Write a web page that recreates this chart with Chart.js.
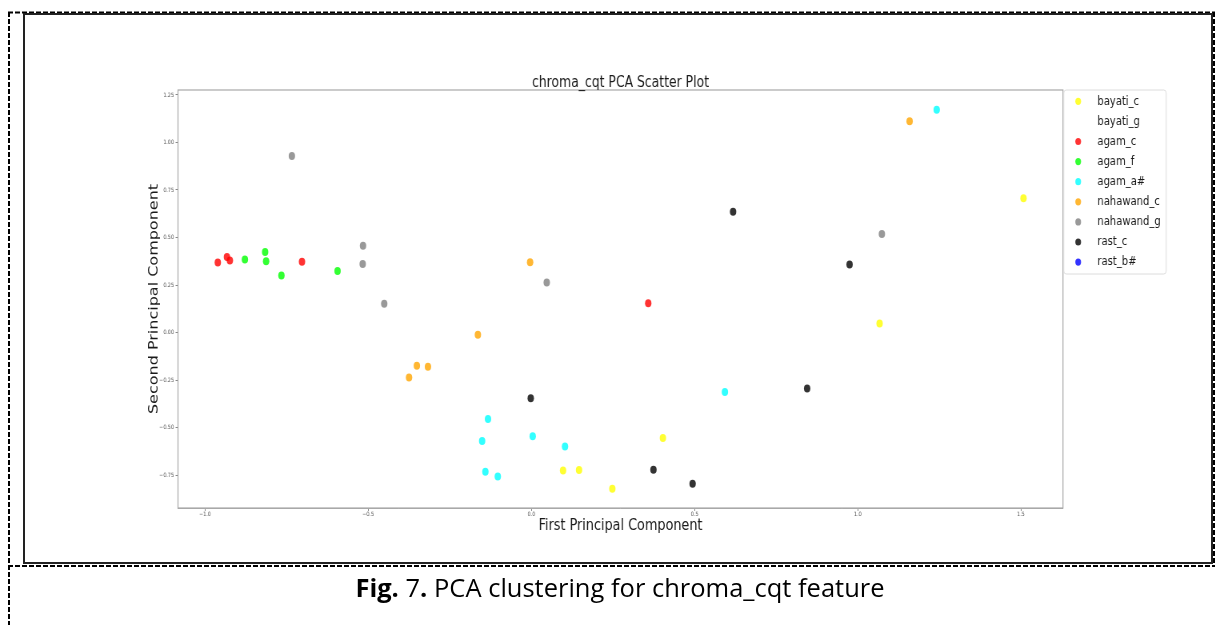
<!DOCTYPE html>
<html lang="en">
<head>
  <meta charset="UTF-8" />
  <title>chroma_cqt PCA Scatter Plot</title>
  <script src="https://cdn.jsdelivr.net/npm/chart.js"></script>
  <style>
    html, body { margin: 0; padding: 0; background: #fff; }
    body { width: 1216px; height: 625px; position: relative; overflow: hidden; }
    #frame { position: absolute; left: 0; top: 0; }
    #chart { position: absolute; left: 0; top: 0; width: 1520px; height: 625px; transform: scaleX(0.8); transform-origin: 0 0; }
    .caption { position: absolute; left: 0; width: 1240px; top: 570px; text-align: center; line-height: 34px;
      font-family: "Open Sans", sans-serif; font-size: 25.5px; color: #000; }
  </style>
</head>
<body>
  <svg id="frame" width="1216" height="625">
    <g stroke="#000" stroke-width="2" stroke-dasharray="5 2" fill="none">
      <line x1="8" y1="12.5" x2="1215" y2="12.5" />
      <line x1="9" y1="12" x2="9" y2="625" />
      <line x1="1214" y1="12" x2="1214" y2="567" />
      <line x1="8" y1="566" x2="1215" y2="566" />
    </g>
    <rect x="24" y="14" width="1188" height="549" stroke="#222" stroke-width="2" fill="none" />
  </svg>
  <canvas id="chart" width="1520" height="625"></canvas>
  <div class="caption"><b>Fig.</b> 7<b>.</b> PCA clustering for chroma_cqt feature</div>

  <script>
    // tick labels
    const xTicks = [-1.0, -0.5, 0.0, 0.5, 1.0, 1.5];
    const yTicks = [-0.75, -0.5, -0.25, 0.0, 0.25, 0.5, 0.75, 1.0, 1.25];

    // series (PC1, PC2)
    const bayatiC = [[1.508, 0.707], [1.067, 0.047], [0.403, -0.555], [0.097, -0.726], [0.146, -0.723], [0.248, -0.822]];
    const bayatiG = [];
    const agamC = [[-0.961, 0.368], [-0.933, 0.398], [-0.924, 0.379], [-0.703, 0.373], [0.358, 0.154]];
    const agamF = [[-0.878, 0.384], [-0.816, 0.424], [-0.813, 0.375], [-0.766, 0.300], [-0.594, 0.324]];
    const agamAs = [[1.242, 1.172], [-0.133, -0.455], [-0.151, -0.571], [0.004, -0.545], [0.103, -0.599], [-0.141, -0.732], [-0.103, -0.757], [0.593, -0.313]];
    const nahawandC = [[1.159, 1.111], [-0.004, 0.370], [-0.164, -0.012], [-0.351, -0.175], [-0.317, -0.180], [-0.375, -0.237]];
    const nahawandG = [[-0.734, 0.929], [-0.516, 0.457], [-0.517, 0.361], [-0.451, 0.152], [0.047, 0.263], [1.074, 0.519]];
    const rastC = [[0.618, 0.635], [0.975, 0.358], [0.845, -0.294], [-0.002, -0.345], [0.374, -0.722], [0.494, -0.795]];
    const rastBs = [];

    const labels = ['bayati_c', 'bayati_g', 'agam_c', 'agam_f', 'agam_a#', 'nahawand_c', 'nahawand_g', 'rast_c', 'rast_b#'];
    const series = [bayatiC, bayatiG, agamC, agamF, agamAs, nahawandC, nahawandG, rastC, rastBs];
    const colors = ['rgba(255,255,0,0.8)', 'rgba(255,255,255,0.8)', 'rgba(255,0,0,0.8)', 'rgba(0,255,0,0.8)',
      'rgba(0,255,255,0.8)', 'rgba(255,165,0,0.8)', 'rgba(128,128,128,0.8)', 'rgba(0,0,0,0.8)', 'rgba(0,0,255,0.8)'];

    const fmt = (v, d) => (v < 0 ? '\u2212' : '') + Math.abs(v).toFixed(d);

    // spines, legend box and titles drawn on top
    const extras = {
      id: 'extras',
      afterDraw(chart) {
        const ctx = chart.ctx;
        const a = chart.chartArea;
        ctx.save();
        ctx.strokeStyle = '#a8a8a8';
        ctx.lineWidth = 1.2;
        ctx.strokeRect(a.left, a.top, a.right - a.left, a.bottom - a.top);

        ctx.fillStyle = '#1a1a1a';
        ctx.textAlign = 'center';
        ctx.textBaseline = 'alphabetic';
        ctx.font = '15.5px "DejaVu Sans"';
        ctx.fillText('chroma_cqt PCA Scatter Plot', (a.left + a.right) / 2, 86.5);
        ctx.font = '16px "DejaVu Sans"';
        ctx.fillText('First Principal Component', (a.left + a.right) / 2, 530);

        ctx.save();
        ctx.translate(193, (a.top + a.bottom) / 2);
        ctx.rotate(-Math.PI / 2);
        ctx.textBaseline = 'middle';
        ctx.fillText('Second Principal Component', 0, 0);
        ctx.restore();

        // legend
        const lx = a.right + 1, ly = 90, lw = 128, lh = 184;
        ctx.strokeStyle = '#dcdcdc';
        ctx.lineWidth = 1;
        ctx.beginPath();
        ctx.roundRect(lx, ly, lw, lh, 3);
        ctx.fillStyle = 'rgba(255,255,255,0.8)';
        ctx.fill();
        ctx.stroke();
        ctx.font = '12.5px "DejaVu Sans"';
        ctx.textAlign = 'left';
        ctx.textBaseline = 'middle';
        chart.data.datasets.forEach((ds, i) => {
          const y = 101.3 + i * 20.1;
          ctx.fillStyle = ds.backgroundColor;
          ctx.beginPath();
          ctx.arc(lx + 18, y, 3.6, 0, Math.PI * 2);
          ctx.fill();
          ctx.fillStyle = '#1a1a1a';
          ctx.fillText(ds.label, lx + 42, y);
        });
        ctx.restore();
      }
    };

    new Chart(document.getElementById('chart'), {
      type: 'scatter',
      data: {
        datasets: labels.map((name, i) => ({
          label: name,
          data: series[i].map(p => ({ x: p[0], y: p[1] })),
          backgroundColor: colors[i],
          borderWidth: 0,
          pointRadius: 4,
          pointHoverRadius: 4
        }))
      },
      options: {
        responsive: false,
        animation: false,
        devicePixelRatio: 1,
        layout: { padding: { left: 182.5, right: 191.25, top: 90, bottom: 97 } },
        plugins: { legend: { display: false }, title: { display: false }, tooltip: { enabled: false } },
        scales: {
          x: {
            type: 'linear', min: -1.083, max: 1.629,
            afterBuildTicks: s => { s.ticks = xTicks.map(v => ({ value: v })); },
            afterFit: s => { s.height = 20; },
            grid: { drawOnChartArea: false, drawTicks: true, tickLength: 3, color: '#888' },
            border: { color: '#a8a8a8' },
            ticks: { callback: v => fmt(v, 1), font: { size: 6, family: 'DejaVu Sans' }, color: '#555', padding: 0, maxRotation: 0 }
          },
          y: {
            type: 'linear', min: -0.923, max: 1.276,
            afterBuildTicks: s => { s.ticks = yTicks.map(v => ({ value: v })); },
            afterFit: s => { s.width = 40; },
            grid: { drawOnChartArea: false, drawTicks: true, tickLength: 3, color: '#888' },
            border: { color: '#a8a8a8' },
            ticks: { callback: v => fmt(v, 2), font: { size: 6, family: 'DejaVu Sans' }, color: '#555', padding: 2 }
          }
        }
      },
      plugins: [extras]
    });
  </script>
</body>
</html>
